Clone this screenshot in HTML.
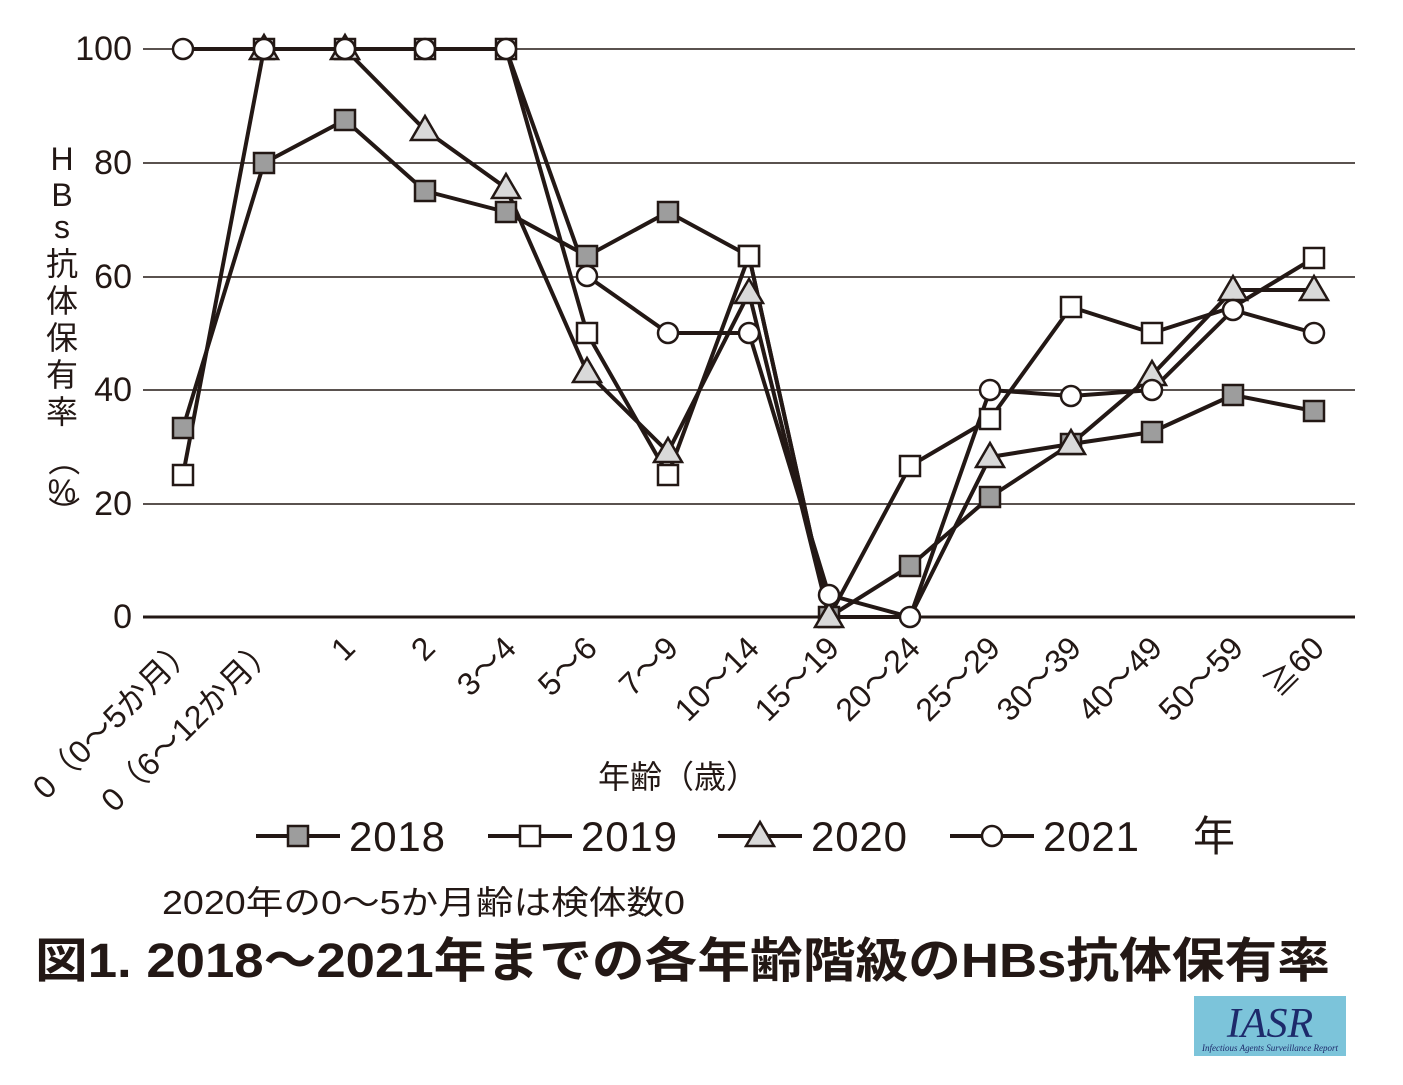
<!DOCTYPE html>
<html><head><meta charset="utf-8"><style>
body{margin:0;background:#fff;}
text{font-family:"Liberation Sans","Noto Sans CJK JP",sans-serif;fill:#231815;}
</style></head><body>
<svg width="1403" height="1080" viewBox="0 0 1403 1080" xmlns="http://www.w3.org/2000/svg">
<g stroke="#231815" stroke-width="1.5">
<line x1="143" y1="49" x2="1355" y2="49"/><line x1="143" y1="163" x2="1355" y2="163"/>
<line x1="143" y1="277" x2="1355" y2="277"/><line x1="143" y1="390" x2="1355" y2="390"/>
<line x1="143" y1="504" x2="1355" y2="504"/>
</g>
<line x1="143" y1="617" x2="1355" y2="617" stroke="#231815" stroke-width="3"/>
<g font-size="34" text-anchor="end">
<text x="132" y="60">100</text><text x="132" y="174">80</text><text x="132" y="288">60</text>
<text x="132" y="401">40</text><text x="132" y="515">20</text><text x="132" y="628">0</text>
</g>
<g font-size="32" text-anchor="middle">
<text x="62" y="170">H</text><text x="62" y="206">B</text><text x="62" y="238">s</text>
<text x="62" y="275">抗</text><text x="62" y="312">体</text><text x="62" y="349">保</text>
<text x="62" y="386">有</text><text x="62" y="423">率</text>
<text x="62" y="470" transform="rotate(90 62 460)">（</text>
<text x="62" y="502">%</text>
<text x="62" y="522" transform="rotate(90 62 512)">）</text>
</g>
<g font-size="32" text-anchor="end">
<text transform="translate(197,650) rotate(-45)">0（0〜5か月）</text>
<text transform="translate(278,650) rotate(-45)">0（6〜12か月）</text>
<text transform="translate(357,650) rotate(-45)">1</text>
<text transform="translate(437,650) rotate(-45)">2</text>
<text transform="translate(518,650) rotate(-45)">3〜4</text>
<text transform="translate(599,650) rotate(-45)">5〜6</text>
<text transform="translate(680,650) rotate(-45)">7〜9</text>
<text transform="translate(761,650) rotate(-45)">10〜14</text>
<text transform="translate(841,650) rotate(-45)">15〜19</text>
<text transform="translate(922,650) rotate(-45)">20〜24</text>
<text transform="translate(1002,650) rotate(-45)">25〜29</text>
<text transform="translate(1083,650) rotate(-45)">30〜39</text>
<text transform="translate(1164,650) rotate(-45)">40〜49</text>
<text transform="translate(1245,650) rotate(-45)">50〜59</text>
<text transform="translate(1326,650) rotate(-45)">≧60</text>
</g>
<text x="678" y="788" font-size="32" text-anchor="middle">年齢（歳）</text>
<g fill="none" stroke="#231815" stroke-width="4" stroke-linejoin="round">
<polyline points="183,428 264,163 345,120 425,191 506,212 587,256 668,212 749,256 829,617 910,566 990,497 1071,444 1152,432 1233,395 1314,411"/>
<polyline points="183,475 264,49 345,49 425,49 506,49 587,333 668,475 749,256 829,617 910,466 990,419 1071,307 1152,333 1233,307 1314,258"/>
<polyline points="264,49 345,49 425,130 506,188 587,372 668,452 749,293 829,617 910,617 990,457 1071,444 1152,375 1233,290 1314,290"/>
<polyline points="183,49 264,49 345,49 425,49 506,49 587,276 668,333 749,333 829,595 910,617 990,390 1071,396 1152,390 1233,310 1314,333"/>
</g>
<g fill="#9d9d9d" stroke="#231815" stroke-width="2.5">
<rect x="173" y="418" width="20" height="20"/><rect x="254" y="153" width="20" height="20"/><rect x="335" y="110" width="20" height="20"/><rect x="415" y="181" width="20" height="20"/><rect x="496" y="202" width="20" height="20"/><rect x="577" y="246" width="20" height="20"/><rect x="658" y="202" width="20" height="20"/><rect x="739" y="246" width="20" height="20"/><rect x="819" y="607" width="20" height="20"/><rect x="900" y="556" width="20" height="20"/><rect x="980" y="487" width="20" height="20"/><rect x="1061" y="434" width="20" height="20"/><rect x="1142" y="422" width="20" height="20"/><rect x="1223" y="385" width="20" height="20"/><rect x="1304" y="401" width="20" height="20"/>
</g>
<g fill="#fff" stroke="#231815" stroke-width="2.5">
<rect x="173" y="465" width="20" height="20"/><rect x="254" y="39" width="20" height="20"/><rect x="335" y="39" width="20" height="20"/><rect x="415" y="39" width="20" height="20"/><rect x="496" y="39" width="20" height="20"/><rect x="577" y="323" width="20" height="20"/><rect x="658" y="465" width="20" height="20"/><rect x="739" y="246" width="20" height="20"/><rect x="900" y="456" width="20" height="20"/><rect x="980" y="409" width="20" height="20"/><rect x="1061" y="297" width="20" height="20"/><rect x="1142" y="323" width="20" height="20"/><rect x="1304" y="248" width="20" height="20"/>
</g>
<g fill="#d9d9d9" stroke="#231815" stroke-width="2.5">
<polygon points="264,35 250,59 278,59"/><polygon points="345,35 331,59 359,59"/><polygon points="425,116 411,140 439,140"/><polygon points="506,174 492,198 520,198"/><polygon points="587,358 573,382 601,382"/><polygon points="668,438 654,462 682,462"/><polygon points="749,279 735,303 763,303"/><polygon points="829,603 815,627 843,627"/><polygon points="990,443 976,467 1004,467"/><polygon points="1071,430 1057,454 1085,454"/><polygon points="1152,361 1138,385 1166,385"/><polygon points="1233,276 1219,300 1247,300"/><polygon points="1314,276 1300,300 1328,300"/>
</g>
<g fill="#fff" stroke="#231815" stroke-width="2.5">
<circle cx="183" cy="49" r="10"/><circle cx="264" cy="49" r="10"/><circle cx="345" cy="49" r="10"/><circle cx="425" cy="49" r="10"/><circle cx="506" cy="49" r="10"/><circle cx="587" cy="276" r="10"/><circle cx="668" cy="333" r="10"/><circle cx="749" cy="333" r="10"/><circle cx="829" cy="595" r="10"/><circle cx="910" cy="617" r="10"/><circle cx="990" cy="390" r="10"/><circle cx="1071" cy="396" r="10"/><circle cx="1152" cy="390" r="10"/><circle cx="1233" cy="310" r="10"/><circle cx="1314" cy="333" r="10"/>
</g>
<g stroke="#231815" stroke-width="4">
<line x1="256" y1="836" x2="340" y2="836"/><line x1="488" y1="836" x2="572" y2="836"/>
<line x1="718" y1="836" x2="802" y2="836"/><line x1="950" y1="836" x2="1034" y2="836"/>
</g>
<rect x="288" y="826" width="20" height="20" fill="#9d9d9d" stroke="#231815" stroke-width="2.5"/>
<rect x="520" y="826" width="20" height="20" fill="#fff" stroke="#231815" stroke-width="2.5"/>
<polygon points="760,822 746,846 774,846" fill="#d9d9d9" stroke="#231815" stroke-width="2.5"/>
<circle cx="992" cy="836" r="10" fill="#fff" stroke="#231815" stroke-width="2.5"/>
<g font-size="42">
<text x="349" y="851" textLength="96">2018</text><text x="581" y="851" textLength="96">2019</text><text x="811" y="851" textLength="96">2020</text><text x="1043" y="851" textLength="96">2021</text><text x="1193" y="851">年</text>
</g>
<text x="162" y="914" font-size="33" textLength="523" lengthAdjust="spacingAndGlyphs">2020年の0〜5か月齢は検体数0</text>
<text x="35" y="977" font-size="48" font-weight="bold" textLength="1295" lengthAdjust="spacingAndGlyphs">図1.  2018〜2021年までの各年齢階級のHBs抗体保有率</text>
<rect x="1194" y="996" width="152" height="60" fill="#7cc4da"/>
<text x="1270" y="1037" font-style="italic" font-size="42" text-anchor="middle" style="fill:#1d2a6b;font-family:'Liberation Serif',serif">IASR</text>
<text x="1270" y="1051" font-size="9" font-style="italic" text-anchor="middle" textLength="136" style="fill:#1d2a6b;font-family:'Liberation Serif',serif">Infectious Agents Surveillance Report</text>
</svg>
</body></html>
